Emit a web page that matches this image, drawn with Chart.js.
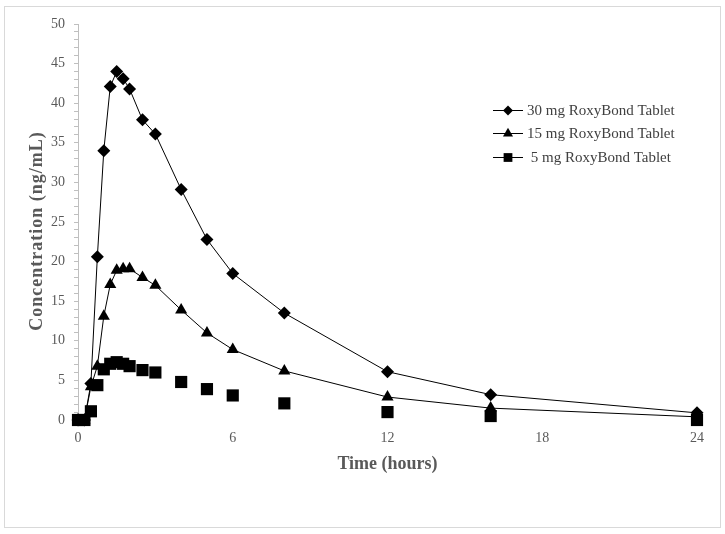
<!DOCTYPE html>
<html>
<head>
<meta charset="utf-8">
<script src="https://cdn.jsdelivr.net/npm/chart.js@4.4.1/dist/chart.umd.min.js"></script>
<style>
  html, body { margin: 0; padding: 0; background: #fff; overflow: hidden; }
  #wrap { position: relative; width: 725px; height: 534px; }
  #frame { position: absolute; left: 4px; top: 6px; width: 715px; height: 520px; border: 1px solid #d9d9d9; pointer-events: none; }
  canvas { position: absolute; left: 0; top: 0; }
</style>
</head>
<body>
<div id="wrap">
  <div id="frame"></div>
  <canvas id="c" width="725" height="534"></canvas>
</div>
<script>
// ---- data ----
const timeHours = [0, 0.25, 0.5, 0.75, 1, 1.25, 1.5, 1.75, 2, 2.5, 3, 4, 5, 6, 8, 12, 16, 24];
const conc30mg = [0, 0, 4.6, 20.6, 34.0, 42.1, 44.0, 43.1, 41.8, 37.9, 36.1, 29.1, 22.8, 18.5, 13.5, 6.1, 3.2, 0.9];
const conc15mg = [0, 0, 4.2, 6.8, 13.1, 17.1, 18.9, 19.1, 19.1, 18.0, 17.0, 13.9, 11.0, 8.9, 6.2, 2.9, 1.5, 0.4];
const conc5mg  = [0, 0, 1.1, 4.4, 6.4, 7.1, 7.3, 7.1, 6.8, 6.3, 6.0, 4.8, 3.9, 3.1, 2.1, 1.0, 0.5, 0.0];
const seriesLabels = ["30 mg RoxyBond Tablet", "15 mg RoxyBond Tablet", " 5 mg RoxyBond Tablet"];
const xTicks = [0, 6, 12, 18, 24];
const yMajorStep = 5;
const xTitle = "Time (hours)";
const yTitle = "Concentration (ng/mL)";

const toPts = (vals) => timeHours.map((t, i) => ({ x: t, y: vals[i] }));
const SERIF = "'Liberation Serif', 'Times New Roman', serif";

const legendPlugin = {
  id: 'customLegend',
  afterDraw(chart) {
    const ctx = chart.ctx;
    const rowsY = [110, 133, 157];
    const legendR = [5, 5.8, 6.2];
    const lx0 = 493, lx1 = 523, mx = 508, tx = 527;
    ctx.save();
    chart.data.datasets.forEach((ds, i) => {
      const y = rowsY[i];
      ctx.strokeStyle = '#000';
      ctx.lineWidth = 1;
      ctx.beginPath();
      ctx.moveTo(lx0, y + 0.5);
      ctx.lineTo(lx1, y + 0.5);
      ctx.stroke();
      ctx.fillStyle = '#000';
      ctx.strokeStyle = '#000';
      Chart.helpers.drawPoint(ctx, { pointStyle: ds.pointStyle, radius: legendR[i], rotation: 0, borderWidth: 0 }, mx, y + 0.5);
      ctx.fillStyle = '#404040';
      ctx.font = "15px " + SERIF;
      ctx.textBaseline = 'middle';
      ctx.textAlign = 'left';
      ctx.fillText(ds.label, tx, y + 1);
    });
    // y-axis title
    ctx.translate(37, 231);
    ctx.rotate(-Math.PI / 2);
    ctx.font = "bold 18px " + SERIF;
    ctx.fillStyle = '#595959';
    ctx.textAlign = 'center';
    ctx.textBaseline = 'middle';
    try { ctx.letterSpacing = '1px'; } catch (e) {}
    ctx.fillText(yTitle, 0, 0);
    ctx.restore();
  }
};

new Chart(document.getElementById('c'), {
  type: 'line',
  data: {
    datasets: [
      { label: seriesLabels[0], data: toPts(conc30mg), pointStyle: 'rectRot', pointRadius: 6.5, order: 3 },
      { label: seriesLabels[1], data: toPts(conc15mg), pointStyle: 'triangle', pointRadius: 7, order: 2 },
      { label: seriesLabels[2], data: toPts(conc5mg), pointStyle: 'rect', pointRadius: 8.6, showLine: false, order: 1 }
    ].map(d => Object.assign({
      borderColor: '#000', backgroundColor: '#000', pointBackgroundColor: '#000',
      pointBorderColor: '#000', pointBorderWidth: 0, borderWidth: 1, tension: 0,
      pointHoverRadius: d.pointRadius, clip: false
    }, d))
  },
  options: {
    responsive: false,
    animation: false,
    devicePixelRatio: 1,
    layout: { padding: { left: 0, top: 24, right: 28, bottom: 0 } },
    plugins: { legend: { display: false }, tooltip: { enabled: false } },
    events: [],
    scales: {
      x: {
        type: 'linear', min: 0, max: 24,
        afterBuildTicks: (s) => { s.ticks = xTicks.map(v => ({ value: v })); },
        grid: { display: false, drawTicks: false },
        border: { display: false },
        ticks: { color: '#595959', padding: 10, font: { family: SERIF, size: 14 } },
        title: { display: true, text: xTitle, color: '#595959', padding: { top: 0, bottom: 59 },
                 font: { family: SERIF, size: 18, weight: 'bold' } },
        afterFit: (s) => { s.height = 114; }
      },
      y: {
        type: 'linear', min: 0, max: 50,
        ticks: {
          stepSize: 1, autoSkip: false, color: '#595959', padding: 9,
          font: { family: SERIF, size: 14 },
          callback: (v) => (v % yMajorStep === 0 ? v : '')
        },
        grid: { drawOnChartArea: false, drawTicks: true, tickLength: 4, color: '#bfbfbf' },
        border: { display: true, color: '#bfbfbf' },
        afterFit: (s) => { s.width = 78; }
      }
    }
  },
  plugins: [legendPlugin]
});
</script>
</body>
</html>
